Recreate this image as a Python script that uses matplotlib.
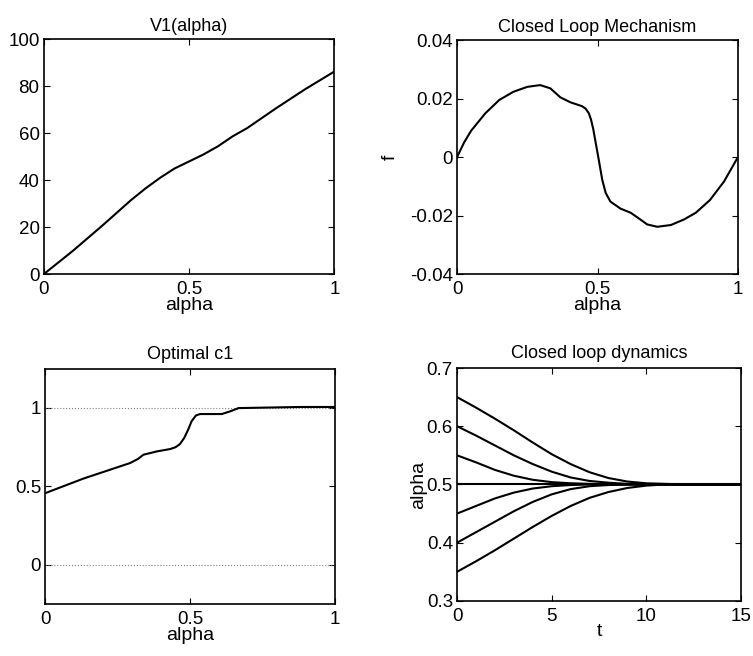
import matplotlib
matplotlib.use("Agg")
import matplotlib.pyplot as plt

# ---------- data -------------------------------------------------------------

# V1(alpha)
v1_alpha = [0.0, 0.1, 0.2, 0.3, 0.35, 0.4, 0.45, 0.5, 0.55, 0.6, 0.65, 0.7, 0.8, 0.9, 1.0]
v1_value = [0.0, 9.9, 20.5, 31.5, 36.5, 41.0, 45.0, 48.0, 51.0, 54.5, 58.7, 62.2, 70.7, 78.8, 86.3]

# Closed Loop Mechanism f(alpha)
f_alpha = [0.0, 0.025, 0.05, 0.1, 0.15, 0.2, 0.25, 0.296, 0.332, 0.368, 0.404, 0.445,
           0.458, 0.469, 0.477, 0.485, 0.493, 0.505, 0.517, 0.529, 0.546, 0.582, 0.618,
           0.648, 0.677, 0.713, 0.761, 0.808, 0.85, 0.9, 0.95, 1.0]
f_value = [0.0, 0.0050, 0.0090, 0.0149, 0.0195, 0.0223, 0.0240, 0.0246, 0.0235, 0.0204,
           0.0187, 0.0174, 0.0165, 0.0150, 0.0128, 0.0095, 0.0052, -0.0012, -0.0078,
           -0.0122, -0.0152, -0.0176, -0.0190, -0.0210, -0.0230, -0.0238, -0.0232,
           -0.0213, -0.0190, -0.0147, -0.0084, 0.0]

# Optimal c1
c1_alpha = [0.0, 0.132, 0.293, 0.32, 0.339, 0.385, 0.431, 0.45, 0.465, 0.48, 0.494,
            0.505, 0.52, 0.534, 0.609, 0.638, 0.667, 0.879, 1.0]
c1_value = [0.457, 0.55, 0.649, 0.675, 0.702, 0.723, 0.738, 0.75, 0.77, 0.81, 0.865,
            0.915, 0.952, 0.961, 0.961, 0.978, 0.999, 1.006, 1.006]

# Closed loop dynamics: alpha(t) for several initial conditions
t_grid = [0, 1, 2, 3, 4, 5, 6, 7, 8, 9, 10, 11, 12, 15]
traj_065 = [0.650, 0.632, 0.613, 0.593, 0.572, 0.552, 0.535, 0.521, 0.511, 0.505, 0.502, 0.501, 0.500, 0.500]
traj_060 = [0.600, 0.584, 0.567, 0.550, 0.535, 0.522, 0.512, 0.506, 0.503, 0.501, 0.500, 0.500, 0.500, 0.500]
traj_055 = [0.550, 0.538, 0.525, 0.515, 0.508, 0.504, 0.502, 0.501, 0.500, 0.500, 0.500, 0.500, 0.500, 0.500]
traj_050 = [0.500, 0.500, 0.500, 0.500, 0.500, 0.500, 0.500, 0.500, 0.500, 0.500, 0.500, 0.500, 0.500, 0.500]
traj_045 = [0.450, 0.463, 0.476, 0.486, 0.493, 0.497, 0.499, 0.500, 0.500, 0.500, 0.500, 0.500, 0.500, 0.500]
traj_040 = [0.400, 0.418, 0.436, 0.454, 0.470, 0.483, 0.492, 0.497, 0.499, 0.500, 0.500, 0.500, 0.500, 0.500]
traj_035 = [0.350, 0.368, 0.387, 0.407, 0.427, 0.446, 0.463, 0.477, 0.487, 0.494, 0.498, 0.500, 0.500, 0.500]
trajectories = [traj_065, traj_060, traj_055, traj_050, traj_045, traj_040, traj_035]

# ---------- style -------------------------------------------------------------

plt.rcParams["font.family"] = ["Liberation Sans", "DejaVu Sans"]
plt.rcParams["font.size"] = 13.5
plt.rcParams["xtick.direction"] = "in"
plt.rcParams["ytick.direction"] = "in"
plt.rcParams["xtick.top"] = True
plt.rcParams["ytick.right"] = True
plt.rcParams["xtick.major.size"] = 4
plt.rcParams["ytick.major.size"] = 4
plt.rcParams["xtick.major.pad"] = 5
plt.rcParams["ytick.major.pad"] = 3
plt.rcParams["axes.linewidth"] = 1.2
plt.rcParams["lines.solid_joinstyle"] = "round"

LW = 1.5
TITLE_FS = 13
LABEL_FS = 14

fig = plt.figure(figsize=(7.53, 6.56), dpi=100)

ax1 = fig.add_axes([0.058, 0.582, 0.386, 0.358])
ax2 = fig.add_axes([0.607, 0.582, 0.373, 0.357])
ax3 = fig.add_axes([0.060, 0.079, 0.385, 0.359])
ax4 = fig.add_axes([0.607, 0.084, 0.377, 0.355])

# ── V1(alpha) ────────────────────────────────────────────────────────────────
ax1.plot(v1_alpha, v1_value, color="black", lw=LW)
ax1.set_xlim(0, 1); ax1.set_ylim(0, 100)
ax1.set_xticks([0, 0.5, 1]); ax1.set_xticklabels(["0", "0.5", "1"])
ax1.set_yticks([0, 20, 40, 60, 80, 100])
ax1.set_title("V1(alpha)", fontsize=TITLE_FS, pad=6)
ax1.set_xlabel("alpha", fontsize=LABEL_FS, labelpad=-1)

# ── Closed Loop Mechanism ────────────────────────────────────────────────────
ax2.plot(f_alpha, f_value, color="black", lw=LW)
ax2.set_xlim(0, 1); ax2.set_ylim(-0.04, 0.04)
ax2.set_xticks([0, 0.5, 1]); ax2.set_xticklabels(["0", "0.5", "1"])
ax2.set_yticks([-0.04, -0.02, 0, 0.02, 0.04])
ax2.set_yticklabels(["-0.04", "-0.02", "0", "0.02", "0.04"])
ax2.set_title("Closed Loop Mechanism", fontsize=TITLE_FS, pad=6)
ax2.set_xlabel("alpha", fontsize=LABEL_FS, labelpad=-1)
ax2.set_ylabel("f", fontsize=LABEL_FS, labelpad=8)

# ── Optimal c1 ───────────────────────────────────────────────────────────────
ax3.axhline(1, color="gray", lw=0.8, ls=":")
ax3.axhline(0, color="gray", lw=0.8, ls=":")
ax3.plot(c1_alpha, c1_value, color="black", lw=LW)
ax3.set_xlim(0, 1); ax3.set_ylim(-0.25, 1.25)
ax3.set_xticks([0, 0.5, 1]); ax3.set_xticklabels(["0", "0.5", "1"])
ax3.set_yticks([0, 0.5, 1]); ax3.set_yticklabels(["0", "0.5", "1"])
ax3.set_title("Optimal c1", fontsize=TITLE_FS, pad=7)
ax3.set_xlabel("alpha", fontsize=LABEL_FS, labelpad=-1)

# ── Closed loop dynamics ─────────────────────────────────────────────────────
for traj in trajectories:
    ax4.plot(t_grid, traj, color="black", lw=LW)
ax4.set_xlim(0, 15); ax4.set_ylim(0.3, 0.7)
ax4.set_xticks([0, 5, 10, 15])
ax4.set_yticks([0.3, 0.4, 0.5, 0.6, 0.7])
ax4.set_title("Closed loop dynamics", fontsize=TITLE_FS, pad=7)
ax4.set_xlabel("t", fontsize=LABEL_FS, labelpad=-1)
ax4.set_ylabel("alpha", fontsize=LABEL_FS, labelpad=0)

fig.savefig("out.png", dpi=100)
